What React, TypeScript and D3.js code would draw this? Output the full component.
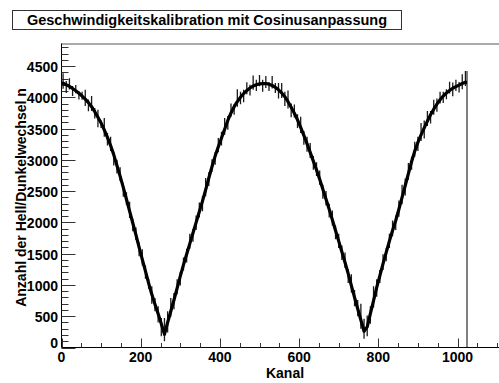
import React from "react";
import * as d3 from "d3";

const TITLE = "Geschwindigkeitskalibration mit Cosinusanpassung";
const X_TITLE = "Kanal";
const Y_TITLE = "Anzahl der Hell/Dunkelwechsel n";
const X_MAJOR = [0, 200, 400, 600, 800, 1000];
const Y_MAJOR = [0, 500, 1000, 1500, 2000, 2500, 3000, 3500, 4000, 4500];
const SLICE = 8; // channels per slice
const N_CHANNELS = 1024;

// slice centre values (channel 8k+4)
const CENTER = [
  4225, 4200, 4175, 4140, 4105, 4065, 4020, 3970, 3915, 3850, 3770, 3680, 3590, 3480, 3360, 3230,
  3080, 2910, 2740, 2560, 2370, 2180, 1990, 1800, 1600, 1410, 1220, 1030, 850, 690, 540, 380,
  210, 400, 580, 760, 950, 1140, 1320, 1490, 1660, 1830, 2000, 2170, 2340, 2520, 2710, 2890,
  3060, 3210, 3350, 3490, 3630, 3750, 3850, 3930, 4000, 4060, 4110, 4150, 4180, 4200, 4215, 4220,
  4220, 4210, 4190, 4160, 4120, 4070, 4010, 3930, 3840, 3745, 3640, 3520, 3390, 3260, 3120, 2980,
  2840, 2690, 2530, 2370, 2210, 2040, 1870, 1700, 1530, 1360, 1180, 990, 800, 620, 440, 260,
  330, 540, 750, 960, 1150, 1340, 1520, 1700, 1870, 2030, 2210, 2400, 2590, 2780, 2970, 3140,
  3280, 3400, 3510, 3620, 3720, 3810, 3890, 3960, 4020, 4070, 4110, 4145, 4170, 4195, 4220, 4240,
];

// upward and downward reach of the fluctuations inside each slice
const UP = [
  160, 60, 130, 40, 90, 30, 70, 150, 50, 170, 60,
  120, 40, 190, 70, 140, 50,
  90, 140, 60, 110, 150, 70, 120, 80, 160, 90, 60, 130, 100,
  120, 90, 260, 180, 210, 110,
  140, 70, 120, 90, 160, 60, 110, 150, 80, 190, 90, 120, 60, 140, 100,
  180, 70, 150, 40, 200, 90, 60, 130,
  50, 170, 80, 140, 60, 120, 30, 150, 70, 110,
  160, 80, 180, 60, 140, 90, 170, 70,
  110, 150, 80, 120, 140, 70, 130, 90, 150, 80, 120, 100, 160, 70, 180, 120,
  140, 260, 200, 180, 120, 230,
  130, 90, 150, 70, 120, 160, 80, 140, 200, 110, 170, 80, 150, 90,
  190, 120, 160, 60, 150, 90, 130, 70,
  60, 140, 90, 110, 50, 150, 180,
];
const DOWN = [
  90, 130, 50, 120, 40, 100, 60, 110, 140, 70, 110,
  160, 80, 110, 130, 90, 170,
  130, 80, 150, 90, 110, 130, 80, 140, 100, 120, 90, 150, 110,
  140, 200, 110, 160, 90, 150,
  100, 150, 90, 130, 80, 140, 120, 90, 160, 100, 130, 80, 140, 90, 120,
  90, 150, 60, 130, 80, 110, 140, 60,
  120, 60, 100, 40, 130, 70, 110, 50, 90, 140,
  80, 150, 110, 160, 70, 130, 90, 150,
  130, 90, 140, 100, 90, 150, 100, 130, 90, 140, 110, 130, 90, 150, 110, 140,
  120, 140, 120, 150, 160, 110,
  150, 120, 100, 140, 110, 90, 150, 120, 110, 160, 100, 130, 90, 140,
  100, 170, 80, 140, 90, 120, 60, 110,
  100, 50, 130, 70, 120, 90, 60,
];

const FONT = "'Liberation Sans', Arial, Helvetica, sans-serif";

export default function App() {
  const W = 499;
  const H = 383;
  const left = 61.5;
  const bottom = 347.5;
  const top = 43.5;
  const xMax = 1120;
  const x = d3.scaleLinear().domain([0, xMax]).range([left, left + xMax * 0.396]);
  const y = d3.scaleLinear().domain([0, 4860]).range([bottom, top]);

  const slices = CENTER.map((c, i) => ({
    ch: i * SLICE + SLICE / 2,
    c,
    up: UP[i],
    down: DOWN[i],
  }));
  const line = d3
    .line<{ ch: number; c: number }>()
    .x((d) => x(d.ch))
    .y((d) => y(d.c));
  const last = slices[slices.length - 1];
  const edge = [{ ch: 0, c: slices[0].c }, ...slices, { ch: N_CHANNELS, c: last.c }];

  const yMinor = d3.range(0, 4860, 100);
  const xMinor = d3.range(0, xMax, 50);

  return (
    <svg
      width={W}
      height={H}
      style={{ position: "absolute", left: 0, top: 0, background: "#fff" }}
      fontFamily={FONT}
    >
      <rect x={0} y={0} width={W} height={H} fill="#fff" />
      {/* title box */}
      <rect x={12.5} y={10.5} width={389} height={19} fill="#fff" stroke="#333" strokeWidth={1} />
      <text x={207} y={24.5} textAnchor="middle" fontSize={14.5} fontWeight="bold" fill="#000">
        {TITLE}
      </text>

      <defs>
        <clipPath id="plot">
          <rect x={left} y={top} width={W - left} height={bottom - top} />
        </clipPath>
      </defs>

      {/* frame */}
      <line x1={left} x2={W} y1={44} y2={44} stroke="#555" strokeWidth={1} />
      <line x1={left} x2={left} y1={top} y2={bottom} stroke="#000" strokeWidth={1} />
      <line x1={left} x2={W} y1={bottom} y2={bottom} stroke="#000" strokeWidth={1} />

      {/* y ticks */}
      {yMinor.map((v) => (
        <line
          key={"yt" + v}
          x1={left}
          x2={left + (v % 500 === 0 ? 14 : 7)}
          y1={Math.round(y(v)) + 0.5}
          y2={Math.round(y(v)) + 0.5}
          stroke="#333"
          strokeWidth={1}
        />
      ))}
      {/* x ticks */}
      {xMinor.map((v) => (
        <line
          key={"xt" + v}
          x1={Math.round(x(v)) + 0.5}
          x2={Math.round(x(v)) + 0.5}
          y1={bottom}
          y2={bottom - (v % 200 === 0 ? 9 : 4.5)}
          stroke="#333"
          strokeWidth={1}
        />
      ))}

      {/* histogram */}
      <g clipPath="url(#plot)">
        {slices.map((d, i) => (
          <line
            key={"s" + i}
            x1={x(d.ch)}
            x2={x(d.ch)}
            y1={y(d.c - d.down)}
            y2={y(d.c + d.up)}
            stroke="#1a1a1a"
            strokeWidth={1.3}
          />
        ))}
        <path d={line(edge) || ""} fill="none" stroke="#000" strokeWidth={3.2} strokeLinejoin="round" />
        <line
          x1={x(N_CHANNELS)}
          x2={x(N_CHANNELS)}
          y1={y(last.c + last.up)}
          y2={y(0)}
          stroke="#000"
          strokeWidth={1}
        />
      </g>

      {/* y labels */}
      {Y_MAJOR.map((v) => (
        <text
          key={"yl" + v}
          x={58}
          y={y(v) + (v === 0 ? -5 : 1)}
          dy="0.36em"
          textAnchor="end"
          fontSize={14}
          fontWeight="bold"
        >
          {v}
        </text>
      ))}
      {/* x labels */}
      {X_MAJOR.map((v) => (
        <text key={"xl" + v} x={x(v)} y={362} textAnchor="middle" fontSize={14} fontWeight="bold">
          {v}
        </text>
      ))}

      <text x={285} y={378} textAnchor="middle" fontSize={14} fontWeight="bold">
        {X_TITLE}
      </text>
      <text
        transform="translate(25.5,197.5) rotate(-90)"
        textAnchor="middle"
        fontSize={14}
        fontWeight="bold"
      >
        {Y_TITLE}
      </text>
    </svg>
  );
}
